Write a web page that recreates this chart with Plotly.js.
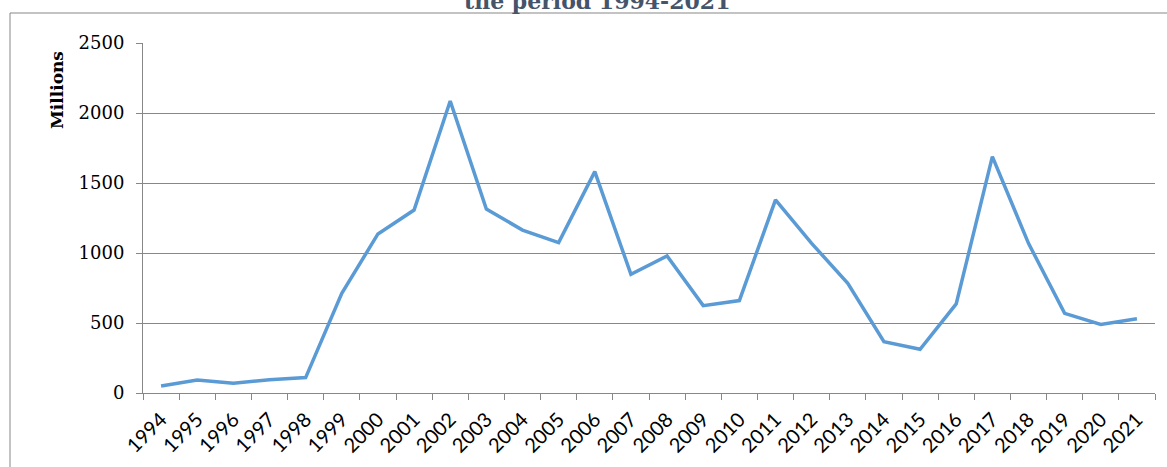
<!DOCTYPE html>
<html>
<head>
<meta charset="utf-8">
<script src="https://cdn.plot.ly/plotly-3.0.1.min.js"></script>
<style>html,body{margin:0;padding:0;background:#fff;}#chart{width:1167px;height:467px;}</style>
</head>
<body>
<div id="chart"></div>
<script>
const years = ["1994","1995","1996","1997","1998","1999","2000","2001","2002","2003","2004","2005","2006","2007","2008","2009","2010","2011","2012","2013","2014","2015","2016","2017","2018","2019","2020","2021"];
const values = [50,93,69,95,110,712,1136,1307,2086,1314,1164,1074,1581,848,979,624,660,1379,1069,783,367,312,636,1688,1069,569,490,531];
const yTicks = [0,500,1000,1500,2000,2500];
const titleText = "the period 1994-2021";
const yTitle = "Millions";

const W = 1167, H = 467;
const L = 143, R = 12, T = 43, B = 74;
const pw = W - L - R, ph = H - T - B;
const px = x => (x - L) / pw;
const py = y => (H - B - y) / ph;

const trace = {
  x: years, y: values, type: 'scatter', mode: 'lines',
  line: {color: '#5B9BD5', width: 3.5},
  hoverinfo: 'x+y'
};

const layout = {
  width: W, height: H,
  margin: {l: L, r: R, t: T, b: B, pad: 0},
  paper_bgcolor: '#fff', plot_bgcolor: '#fff',
  showlegend: false,
  xaxis: {
    type: 'category', range: [-0.5, years.length - 0.5],
    showgrid: false, showline: true, linecolor: '#878787', linewidth: 1,
    ticks: 'outside', tickson: 'boundaries', ticklen: 6, tickcolor: '#878787',
    ticklabelstandoff: 6,
    tickangle: -45, tickfont: {family: 'Lato, "Liberation Sans", sans-serif', size: 20, color: '#000'},
    zeroline: false, fixedrange: true
  },
  yaxis: {
    range: [0, 2500], tickvals: yTicks, ticktext: yTicks.map(String),
    showgrid: true, gridcolor: '#878787', gridwidth: 1,
    showline: true, linecolor: '#878787', linewidth: 1,
    ticks: 'outside', ticklen: 6, tickcolor: '#878787',
    ticklabelstandoff: 8,
    tickfont: {family: '"DejaVu Serif", serif', size: 18, color: '#000'},
    zeroline: false, fixedrange: true
  },
  shapes: [
    {type: 'line', xref: 'paper', yref: 'paper', x0: px(10), x1: px(W + 5), y0: py(13), y1: py(13), line: {color: '#878787', width: 1}},
    {type: 'line', xref: 'paper', yref: 'paper', x0: px(10), x1: px(10), y0: py(13), y1: py(H + 5), line: {color: '#878787', width: 1}}
  ],
  annotations: [
    {text: '<b>' + yTitle + '</b>', xref: 'paper', yref: 'paper', x: px(57), y: py(90), xanchor: 'center', yanchor: 'middle', textangle: -90, showarrow: false, font: {family: '"DejaVu Serif", serif', size: 17, color: '#000'}},
    {text: '<b>' + titleText + '</b>', xref: 'paper', yref: 'paper', x: px(597), y: py(16), xanchor: 'center', yanchor: 'bottom', showarrow: false, font: {family: '"DejaVu Serif", serif', size: 22, color: '#44546A'}}
  ]
};

Plotly.newPlot('chart', [trace], layout, {displayModeBar: false, staticPlot: true});
</script>
</body>
</html>
